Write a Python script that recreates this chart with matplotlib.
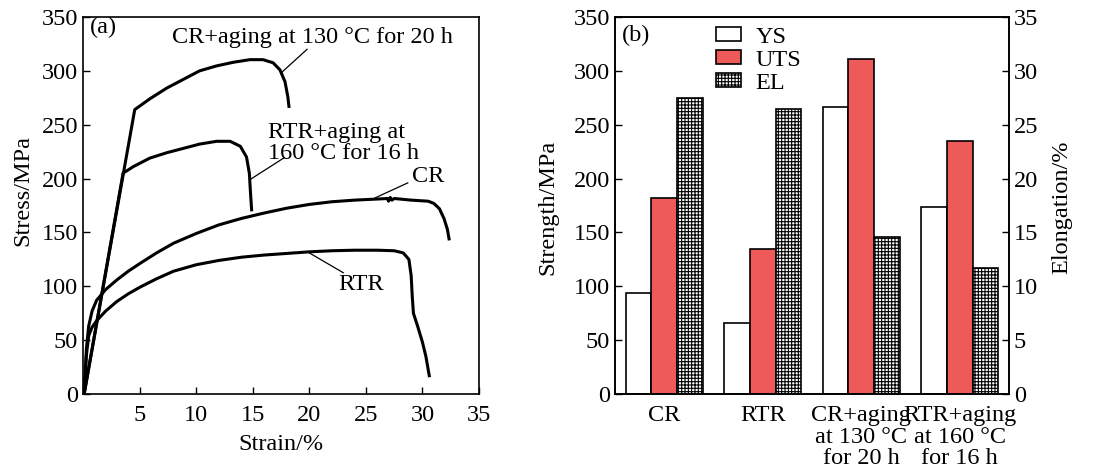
import numpy as np
import matplotlib
matplotlib.use('Agg')
import matplotlib.pyplot as plt

plt.rcParams['font.family'] = ['Liberation Serif', 'DejaVu Serif']
plt.rcParams['font.size'] = 17.5
plt.rcParams['hatch.linewidth'] = 0.8
plt.rcParams['axes.linewidth'] = 1.2

# (a) stress-strain curves: strain (%), stress (MPa)
cr_age_strain = [0.1, 4.57, 5.9, 7.4, 8.85, 10.3, 11.8, 13.3, 14.75, 15.9, 16.8, 17.4, 17.85, 18.1, 18.2]
cr_age_stress = [0, 264, 274, 284, 292, 300, 304.6, 308, 310.4, 310.4, 307.5, 301, 290, 276, 267]

rtr_age_strain = [0.1, 3.54, 4.43, 5.9, 7.4, 8.85, 10.3, 11.8, 13.0, 13.9, 14.45, 14.7, 14.8, 14.9]
rtr_age_stress = [0, 205, 211, 219, 224, 228, 232, 234.6, 234.6, 230, 220, 205, 187, 171]

cr_strain = [0.1, 0.3, 0.5, 0.8, 1.2, 2, 3, 4, 5, 6.5, 8, 10, 12, 14, 16, 18, 20, 22, 24, 26,
             26.9, 27.0, 27.15, 27.3, 27.5, 29, 30.5, 31, 31.5, 31.9, 32.2, 32.35]
cr_stress = [0, 42, 63, 77, 87, 97, 106, 114, 121, 131, 140, 149, 157, 163, 168, 172.5, 176, 178.5, 180, 181,
             181.5, 179, 182.5, 180, 181.5, 180, 179, 177, 172, 163, 153, 144]

rtr_strain = [0.1, 0.3, 0.5, 0.8, 1.2, 2, 3, 4, 5, 6.5, 8, 10, 12, 14, 16, 18, 20, 22, 24, 26,
              27.5, 28.3, 28.8, 29.0, 29.1, 29.2, 29.6, 30.0, 30.3, 30.6]
rtr_stress = [0, 36, 54, 62, 68, 77, 86, 93, 99, 107, 114, 120, 124, 127, 129, 130.5, 132, 133, 133.5, 133.5,
              133, 131, 125, 110, 90, 75, 62, 48, 35, 17]

# (b) strength and elongation
categories = ['CR', 'RTR', 'CR+aging\nat 130 \u00b0C\nfor 20 h', 'RTR+aging\nat 160 \u00b0C\nfor 16 h']
ys = [93.5, 66, 266, 174]
uts = [182, 134.6, 311, 235]
el = [27.5, 26.5, 14.6, 11.7]

fig = plt.figure(figsize=(11.01, 4.75), dpi=100)
ax1 = fig.add_axes([0.0754, 0.1705, 0.3597, 0.7937])
ax2 = fig.add_axes([0.5586, 0.1705, 0.3579, 0.7937])

lw = 2.2
for sx, sy in [(cr_age_strain, cr_age_stress), (rtr_age_strain, rtr_age_stress),
               (cr_strain, cr_stress), (rtr_strain, rtr_stress)]:
    ax1.plot(sx, sy, color='black', lw=lw, solid_joinstyle='round')

ax1.set_xlim(0, 35)
ax1.set_ylim(0, 350)
ax1.set_xticks(range(0, 36, 5))
ax1.set_xticklabels([''] + [str(v) for v in range(5, 36, 5)])
ax1.set_yticks(range(0, 351, 50))
ax1.tick_params(direction='in', length=5, width=1.0)
ax1.tick_params(axis='x', pad=8)
ax1.set_xlabel('Strain/%', labelpad=6)
ax1.set_ylabel('Stress/MPa')
ax1.yaxis.set_label_coords(-0.126, 0.541)
ax1.text(0.6, 340, '(a)', va='center', ha='left')

ax1.text(7.85, 331, 'CR+aging at 130 \u00b0C for 20 h', va='center', ha='left')
ax1.plot([19.8, 17.6], [320, 299], color='black', lw=0.9)
ax1.text(16.35, 233, 'RTR+aging at\n160 \u00b0C for 16 h', va='center', ha='left', linespacing=1.05)
ax1.plot([17.8, 14.75], [219.5, 199], color='black', lw=0.9)
ax1.text(29.1, 202, 'CR', va='center', ha='left')
ax1.plot([28.7, 25.8], [196, 182], color='black', lw=0.9)
ax1.text(24.6, 101.5, 'RTR', va='center', ha='center')
ax1.plot([23, 20], [112.6, 131], color='black', lw=0.9)

x = np.arange(len(categories))
w = 0.26
b1 = ax2.bar(x - w, ys, w, color='white', edgecolor='black', lw=1.2, label='YS')
b2 = ax2.bar(x, uts, w, color='#EE5A5A', edgecolor='black', lw=1.2, label='UTS')
ax3 = ax2.twinx()
b3 = ax3.bar(x + w, el, w, color='white', edgecolor='black', hatch='+++++', lw=1.2, label='EL')

ax2.set_xlim(-0.5, 3.5)
ax2.set_ylim(0, 350)
ax3.set_ylim(0, 35)
ax2.set_yticks(range(0, 351, 50))
ax3.set_yticks(range(0, 36, 5))
ax2.set_xticks(x)
ax2.set_xticklabels(categories, linespacing=1.03)
ax2.tick_params(axis='y', direction='in', length=5, width=1.0)
ax2.tick_params(axis='x', length=0, pad=8)
ax3.tick_params(axis='y', direction='in', length=5, width=1.0)
ax2.set_ylabel('Strength/MPa')
ax2.yaxis.set_label_coords(-0.145, 0.496)
ax3.set_ylabel('Elongation/%')
ax3.yaxis.set_label_coords(1.108, 0.496)
ax2.text(0.018, 0.952, '(b)', transform=ax2.transAxes, va='center', ha='left')

ax2.legend(handles=[b1, b2, b3], loc='upper left', bbox_to_anchor=(0.245, 0.987), frameon=False,
           handlelength=1.0, handleheight=0.5, handletextpad=0.6, labelspacing=0.08,
           borderaxespad=0, borderpad=0.2)

fig.savefig('out.png', dpi=100)
